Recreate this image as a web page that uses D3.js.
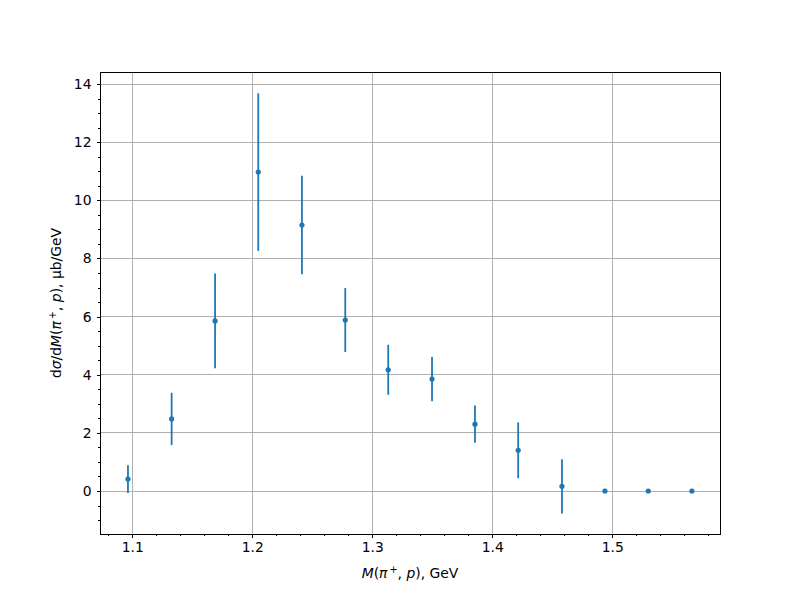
<!DOCTYPE html>
<html>
<head>
<meta charset="utf-8">
<script src="https://cdn.jsdelivr.net/npm/d3@7"></script>
<style>
body { margin: 0; background: #fff; }
text { font-family: "DejaVu Sans", sans-serif; }
</style>
</head>
<body>
<svg id="chart" width="800" height="600"></svg>
<script>
const massValues = [1.0964, 1.1328, 1.1690, 1.2050, 1.2414, 1.2775, 1.3133, 1.3498, 1.3856, 1.4216, 1.4581, 1.4939, 1.5300, 1.5664];
const crossSection = [0.41, 2.48, 5.85, 10.97, 9.15, 5.88, 4.17, 3.85, 2.30, 1.40, 0.16, 0.0, 0.0, 0.0];
const errors = [0.48, 0.90, 1.63, 2.71, 1.69, 1.10, 0.86, 0.76, 0.64, 0.96, 0.93, 0.0, 0.0, 0.0];
const xTicks = [1.1, 1.2, 1.3, 1.4, 1.5];
const yTicks = [0, 2, 4, 6, 8, 10, 12, 14];

const svg = d3.select("#chart");
const L = 100, R = 720, T = 72, B = 534;
const x = d3.scaleLinear().domain([1.0731, 1.5898]).range([L, R]);
const y = d3.scaleLinear().domain([-1.479, 14.413]).range([B, T]);
const color = "#1f77b4";
const snap = v => Math.round(v - 0.5) + 0.5;

// grid
const g = svg.append("g");
g.selectAll(".gx").data(xTicks).enter().append("line")
  .attr("x1", d => snap(x(d))).attr("x2", d => snap(x(d))).attr("y1", T).attr("y2", B)
  .attr("stroke", "#b0b0b0").attr("stroke-width", 1).attr("shape-rendering", "crispEdges");
g.selectAll(".gy").data(yTicks).enter().append("line")
  .attr("y1", d => snap(y(d))).attr("y2", d => snap(y(d))).attr("x1", L).attr("x2", R)
  .attr("stroke", "#b0b0b0").attr("stroke-width", 1).attr("shape-rendering", "crispEdges");

// axes
const xAxis = d3.axisBottom(x).tickValues(xTicks).tickFormat(d3.format(".1f")).tickSize(3.5).tickPadding(5);
const xMinor = d3.range(1.08, 1.59, 0.02).filter(v => !xTicks.some(t => Math.abs(t - v) < 1e-6));
const yMinor = d3.range(-1, 14.41, 0.5).filter(v => !yTicks.some(t => Math.abs(t - v) < 1e-6));

const ax = svg.append("g").attr("transform", `translate(0,${B})`);
ax.call(xAxis);
ax.append("g").call(d3.axisBottom(x).tickValues(xMinor).tickFormat("").tickSize(2));
const ay = svg.append("g").attr("transform", `translate(${L},0)`);
ay.call(d3.axisLeft(y).tickValues(yTicks).tickFormat(d3.format("d")).tickSize(3.5).tickPadding(5));
ay.append("g").call(d3.axisLeft(y).tickValues(yMinor).tickFormat("").tickSize(2));
svg.selectAll(".domain").remove();
svg.selectAll(".tick line").attr("stroke", "#000").attr("stroke-width", 1).attr("shape-rendering", "crispEdges");
svg.selectAll(".tick text").attr("font-size", "13.9px").attr("fill", "#000").attr("font-family", "DejaVu Sans, sans-serif");

// frame
svg.append("rect").attr("x", L).attr("y", T).attr("width", R - L).attr("height", B - T)
  .attr("fill", "none").attr("stroke", "#000").attr("stroke-width", 1).attr("shape-rendering", "crispEdges");

// error bars
const data = massValues.map((m, i) => ({ m, v: crossSection[i], e: errors[i] }));
svg.append("g").selectAll("line").data(data.filter(d => d.e > 0)).enter().append("line")
  .attr("x1", d => x(d.m)).attr("x2", d => x(d.m))
  .attr("y1", d => y(d.v + d.e)).attr("y2", d => y(d.v - d.e))
  .attr("stroke", color).attr("stroke-width", 1.8);
svg.append("g").selectAll("circle").data(data).enter().append("circle")
  .attr("cx", d => x(d.m)).attr("cy", d => y(d.v)).attr("r", 2.6).attr("fill", color);

// labels
const xl = svg.append("text").attr("x", (L + R) / 2).attr("y", 578).attr("text-anchor", "middle")
  .attr("font-size", "13.9px").attr("fill", "#000");
xl.append("tspan").attr("font-style", "italic").text("M");
xl.append("tspan").text("(");
xl.append("tspan").attr("font-style", "italic").text("π");
xl.append("tspan").attr("font-size", "9.7px").attr("dx", 2).attr("dy", -5).text("+");
xl.append("tspan").attr("dy", 5).text(", ");
xl.append("tspan").attr("font-style", "italic").text("p");
xl.append("tspan").text("), GeV");

const yl = svg.append("text").attr("transform", `translate(61,${(T + B) / 2}) rotate(-90)`)
  .attr("text-anchor", "middle").attr("font-size", "13.9px").attr("fill", "#000");
yl.append("tspan").text("d");
yl.append("tspan").attr("font-style", "italic").text("σ");
yl.append("tspan").text("/d");
yl.append("tspan").attr("font-style", "italic").text("M");
yl.append("tspan").text("(");
yl.append("tspan").attr("font-style", "italic").text("π");
yl.append("tspan").attr("font-size", "9.7px").attr("dx", 2).attr("dy", -5).text("+");
yl.append("tspan").attr("dy", 5).text(", ");
yl.append("tspan").attr("font-style", "italic").text("p");
yl.append("tspan").text("), μb/GeV");
</script>
</body>
</html>
